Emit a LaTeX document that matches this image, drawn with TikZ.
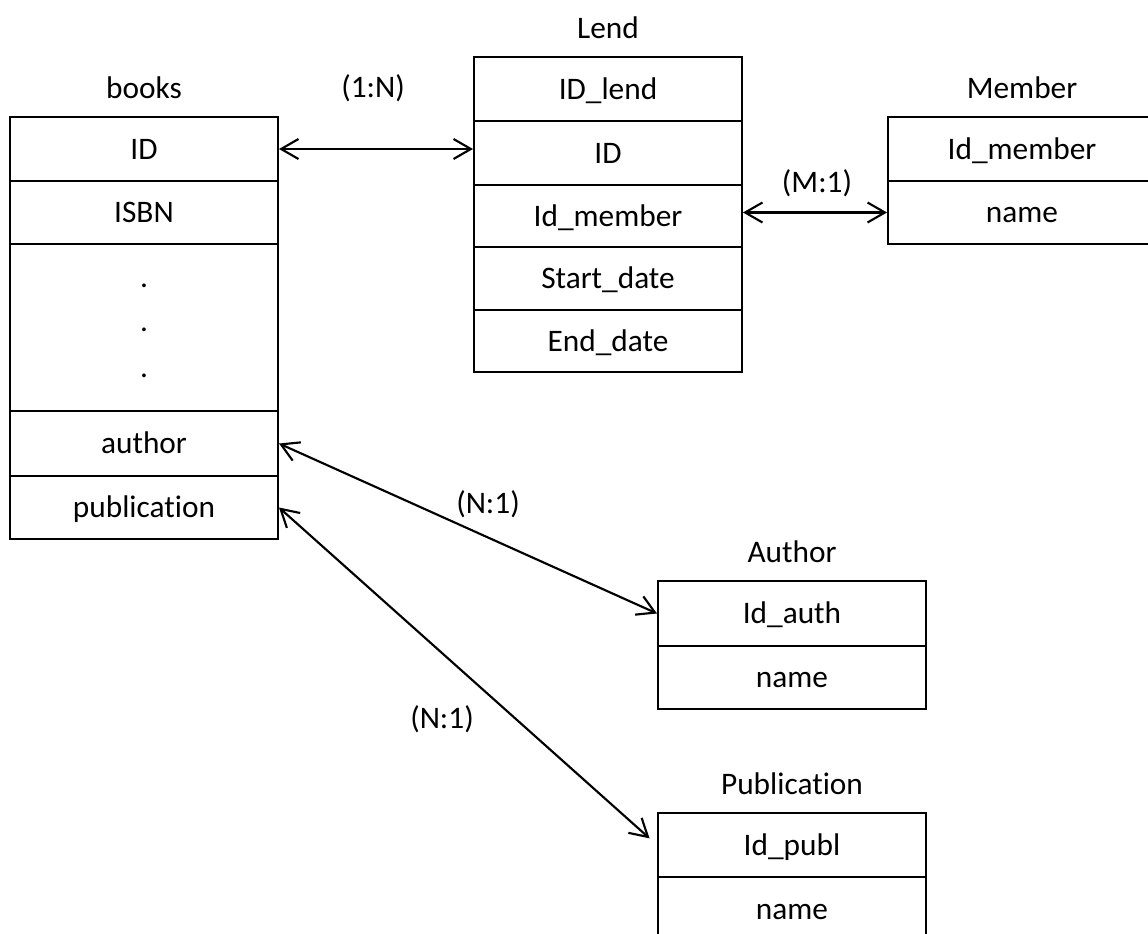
\documentclass[tikz,border=0pt]{standalone}
\usepackage{fontspec}
\setmainfont{Carlito}[Ligatures=NoCommon]
\usetikzlibrary{arrows.meta}
\begin{document}
\begin{tikzpicture}[x=0.75pt,y=-0.75pt,
  every node/.style={font=\fontsize{23.5}{28}\selectfont},
  row/.style={draw, line width=1.5pt, minimum width=201pt, inner sep=0pt, text height=15.1pt, text depth=0pt},
  ttl/.style={inner sep=0pt, text height=15.1pt, text depth=0pt},
  dotnode/.style={inner sep=0pt, anchor=base},
  rel/.style={line width=1.6pt, {Straight Barb[length=13pt,width=15pt]}-{Straight Barb[length=13pt,width=15pt]}}]
\useasboundingbox (0,0) rectangle (1148,934);
% books
\node[ttl] (tb) at (144,88) {books};
\node[row, minimum height=48pt] (b1) at (144,149) {ID};
\node[row, minimum height=47.25pt] (b2) at (144,212.5) {ISBN};
\node[row, minimum height=125.25pt] (b3) at (144,327.5) {};
\node[dotnode] (d1) at (144,287) {.};
\node[dotnode] (d2) at (144,331) {.};
\node[dotnode] (d3) at (144,377) {.};
\node[row, minimum height=48.75pt] (b4) at (144,443.5) {author};
\node[row, minimum height=47.25pt] (b5) at (144,507.5) {publication};
% Lend
\node[ttl] (tl) at (608,28) {Lend};
\node[row, minimum height=48pt] (l1) at (608,89) {ID\_lend};
\node[row, minimum height=48pt] (l2) at (608,153) {ID};
\node[row, minimum height=46.5pt] (l3) at (608,216) {Id\_member};
\node[row, minimum height=47.25pt] (l4) at (608,278.5) {Start\_date};
\node[row, minimum height=46.5pt] (l5) at (608,341) {End\_date};
% Member
\node[ttl] (tm) at (1022,88) {Member};
\node[row, minimum height=48pt] (m1) at (1022,149) {Id\_member};
\node[row, minimum height=47.25pt] (m2) at (1022,212.5) {name};
% Author
\node[ttl] (ta) at (792,552) {Author};
\node[row, minimum height=48.75pt] (a1) at (792,613.5) {Id\_auth};
\node[row, minimum height=47.25pt] (a2) at (792,677.5) {name};
% Publication
\node[ttl] (tp) at (792,784) {Publication};
\node[row, minimum height=48pt] (p1) at (792,845) {Id\_publ};
\node[row, minimum height=48pt] (p2) at (792,909) {name};
% relations
\draw[rel] (b1.east) -- (b1.east -| l2.west);
\node[ttl] (r1) at (373,87) {(1:N)};
\draw[rel] (m2.west -| l3.east) -- (m2.west);
\node[ttl] (r2) at (817,182) {(M:1)};
\draw[rel] (b4.east) -- (a1.west);
\node[ttl] (r3) at (488,503) {(N:1)};
\draw[rel, shorten >=7.5pt] (b5.east) -- (p1.west);
\node[ttl] (r4) at (442,718) {(N:1)};
\end{tikzpicture}
\end{document}
